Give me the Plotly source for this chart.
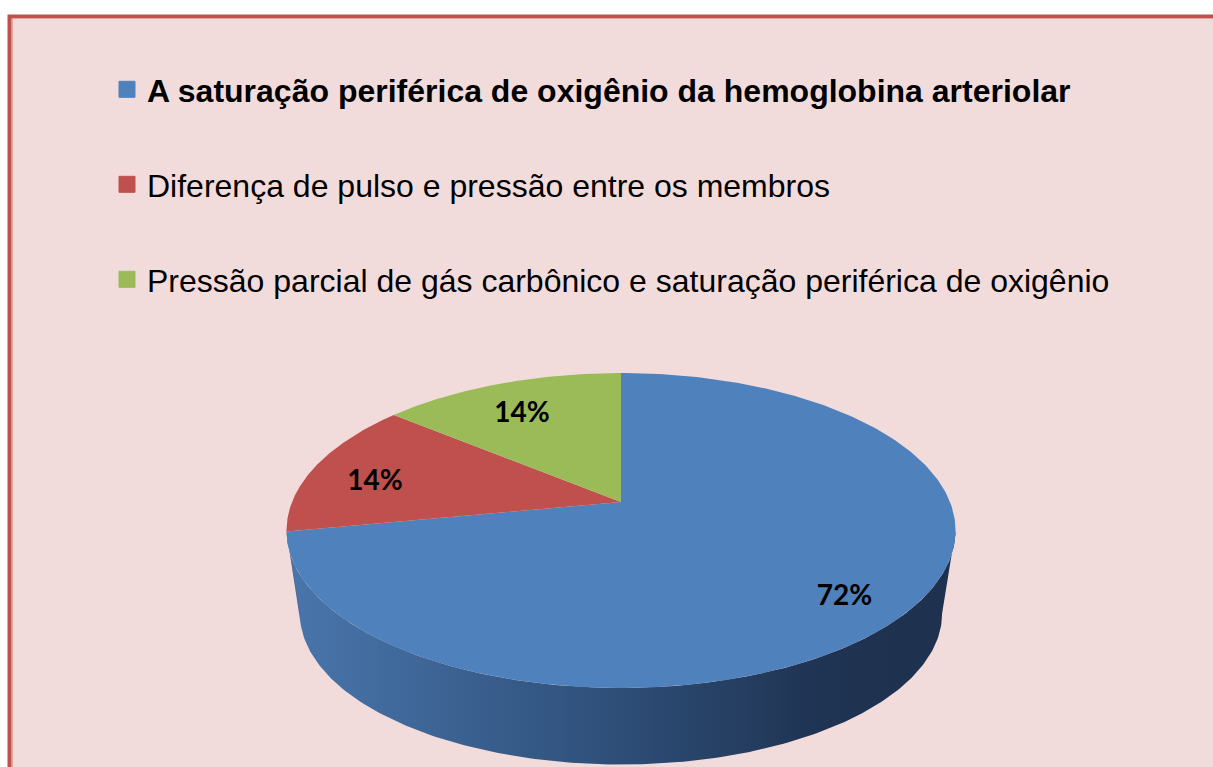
import numpy as np
import plotly.graph_objects as go

# data
categories = [
    "A saturação periférica de oxigênio da hemoglobina arteriolar",
    "Diferença de pulso e pressão entre os membros",
    "Pressão parcial de gás carbônico e saturação periférica de oxigênio",
]
values = [72, 14, 14]
top_colors = ["#4F81BD", "#C0504D", "#9BBB59"]
side_scales = [
    [[0, "#4A76AC"], [0.45, "#30527D"], [0.8, "#1F3352"], [1, "#1E314E"]],
    [[0, "#A9403D"], [1, "#6E2725"]],
    [[0, "#88A64A"], [1, "#5A6F30"]],
]
bold_first = True

# perspective of the tilted disc (pixel-like axes)
CX, CY = 621, 502
RX, RY = 329, 152.3
K = 0.181
DROP, SHRINK = 84, 0.96
LABEL_R = 0.8
LABEL_DY = 10


def rim(theta, r=1.0, drop=0.0, s=1.0):
    t = np.radians(theta)
    d = 1 + K * r * np.sin(t)
    x = CX + s * RX * r * np.cos(t) / d
    y = CY + drop - s * RY * r * np.sin(t) / d
    return x, y


total = sum(values)
cum = np.concatenate([[0], np.cumsum(values)])
starts = 90 - 360 * cum[:-1] / total
ends = 90 - 360 * cum[1:] / total

fig = go.Figure()

# side wall, only the front half is visible
vis_lo = -180 + np.degrees(np.arcsin(K))
vis_hi = -np.degrees(np.arcsin(K))
for i in range(len(values)):
    lo = max(ends[i], vis_lo)
    hi = min(starts[i], vis_hi)
    if hi <= lo:
        continue
    th = np.linspace(lo, hi, 200)
    xt, yt = rim(th)
    xb, yb = rim(th[::-1], drop=DROP, s=SHRINK)
    fig.add_trace(go.Scatter(
        x=np.concatenate([xt, xb, xt[:1]]),
        y=np.concatenate([yt, yb, yt[:1]]),
        mode="lines", line=dict(width=0), fill="toself",
        fillgradient=dict(type="horizontal", colorscale=side_scales[i]),
        hoverinfo="skip", showlegend=False,
    ))

# top surface slices
for i in range(len(values)):
    th = np.linspace(starts[i], ends[i], 300)
    xr, yr = rim(th)
    fig.add_trace(go.Scatter(
        x=np.concatenate([[CX], xr, [CX]]),
        y=np.concatenate([[CY], yr, [CY]]),
        mode="lines", line=dict(width=0), fill="toself",
        fillcolor=top_colors[i], name=categories[i],
        hoverinfo="name", showlegend=False,
    ))

# percentage labels
mids = (starts + ends) / 2
lx, ly = rim(mids, r=LABEL_R)
fig.add_trace(go.Scatter(
    x=lx, y=ly + LABEL_DY, mode="text",
    text=[f"{v / total:.0%}" for v in values],
    textfont=dict(family="Lato", size=28, color="black", weight="bold"),
    hoverinfo="skip", showlegend=False,
))

# legend entries, one legend box per row
legend_names = ["legend", "legend2", "legend3"]
row_y = [89.5, 184.5, 279.5]
for i, name in enumerate(categories):
    label = f"<b>{name}</b>" if (i == 0 and bold_first) else name
    fig.add_trace(go.Scatter(
        x=[None], y=[None], mode="markers",
        marker=dict(symbol="square", size=16, color=top_colors[i],
                    line=dict(color=top_colors[i], width=1)),
        name=label, legend=legend_names[i],
    ))

W, H = 1213, 767
legend_style = dict(
    font=dict(family="Liberation Sans, Arial", size=32, color="black"),
    bgcolor="rgba(0,0,0,0)", borderwidth=0, itemsizing="trace",
    xanchor="left", yanchor="middle", itemclick=False,
)
layout_legends = {}
for i, lname in enumerate(legend_names):
    layout_legends[lname] = dict(legend_style, x=107 / W, y=1 - row_y[i] / H)

fig.update_layout(
    width=W, height=H,
    margin=dict(l=0, r=0, t=0, b=0),
    paper_bgcolor="white",
    plot_bgcolor="rgba(0,0,0,0)",
    xaxis=dict(range=[0, W], visible=False, fixedrange=True),
    yaxis=dict(range=[H, 0], visible=False, fixedrange=True),
    shapes=[
        dict(type="rect", xref="paper", yref="paper", layer="below",
             x0=9.5 / W, x1=1.05, y0=-0.05, y1=1 - 16.5 / H,
             fillcolor="#F2DCDB", line=dict(color="#C0504D", width=4)),
        dict(type="rect", xref="paper", yref="paper", layer="below",
             x0=12.5 / W, x1=1.05, y0=-0.05, y1=1 - 18.5 / H,
             fillcolor="rgba(0,0,0,0)", line=dict(color="#E3A3A1", width=1)),
    ],
    **layout_legends,
)

fig.write_html("out.html", config={"displayModeBar": False},
               post_script="document.body.style.margin='0';")
